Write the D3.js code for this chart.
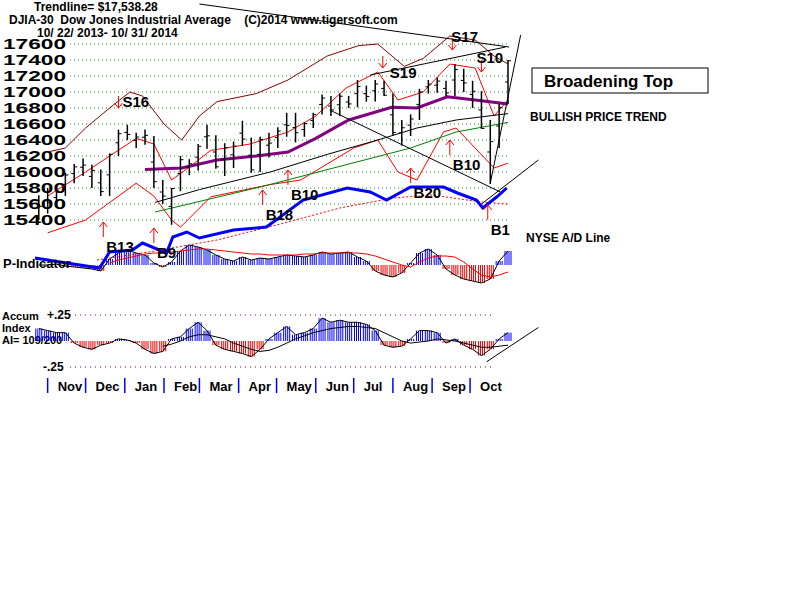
<!DOCTYPE html>
<html><head><meta charset="utf-8">
<script src="https://cdn.jsdelivr.net/npm/d3@7"></script>
<style>body{margin:0;background:#fff}text{font-family:"Liberation Sans",Arial,sans-serif;font-weight:bold;white-space:pre}</style>
</head><body><svg id="c" width="800" height="600"></svg>
<script>
// ---------- DATA ----------
const weekStart = "2013-10-25"; // weekly bars (Fridays)
const closes = [15570,15615,15761,15962,16064,16086,16020,15755,16221,16479,16470,16437,16458,15879,15699,15794,16154,16103,16321,16452,16065,16302,16323,16412,16027,16408,16361,16512,16583,16491,16606,16717,16924,16776,16947,16851,17068,16944,17100,16960,16493,16553,16662,17001,17098,17137,16988,17280,17113,17009,16544,16380,16805,17391];
const highs = [15710,15800,15800,15990,16100,16170,16090,16030,16230,16530,16590,16490,16530,16450,15900,15800,16200,16160,16350,16590,16460,16360,16380,16640,16430,16440,16490,16560,16740,16740,16620,16740,16970,16950,16980,16950,17150,17080,17150,17140,16980,16650,16720,17040,17150,17180,17140,17350,17290,17140,17010,16650,16850,17400];
const lows = [15400,15480,15560,15700,15860,15950,15800,15700,15700,16200,16400,16300,16340,15800,15600,15340,15760,15960,16020,16290,16040,15950,16050,16330,15990,16000,16180,16300,16440,16370,16440,16550,16720,16700,16700,16800,16810,16880,16880,16950,16450,16330,16450,16650,16980,16990,16950,16950,17000,16800,16540,15850,16300,16850];
const pInd = [0,0,1,-1,-2,-3,-4,-6,6,12,15,12,10,2,-2,3,14,20,18,15,10,6,4,8,5,7,6,8,10,9,8,10,13,11,12,13,8,4,-6,-10,-12,-8,2,12,16,10,-4,-10,-14,-16,-18,-14,4,14];
const pMA = [null,null,null,null,null,null,null,null,2,5,7,9,11,12,12,13,14,15,16,16,15,14,13,12,11,11,10,10,10,10,11,11,12,12,12,12,12,11,9,6,3,0,-2,3,7,9,9,8,3,-4,-10,-12,-10,-7];
const accum = [.12,.10,.08,.08,-.02,-.06,-.08,-.04,-.02,.02,.01,-.02,-.08,-.12,-.10,.02,.04,.12,.18,.10,-.04,-.08,-.10,-.12,-.15,-.08,.02,.08,.14,.06,.08,.12,.22,.18,.20,.18,.18,.16,.10,-.04,-.06,-.05,.02,.10,.10,.08,-.02,.02,-.04,-.08,-.14,-.08,.02,.08];
const accMA = [null,null,null,null,null,null,null,null,null,null,null,null,null,null,-.05,-.03,0,.04,.06,.06,.04,.02,-.02,-.05,-.08,-.10,-.09,-.06,-.02,.02,.05,.08,.10,.12,.13,.14,.14,.13,.12,.08,.04,.00,-.02,-.01,.00,.02,.01,.00,-.02,-.04,-.06,-.06,-.05,-.04];
const ma65 = [["2014-01-17",16030],["2014-02-15",16050],["2014-03-15",16150],["2014-04-15",16200],["2014-05-10",16250],["2014-06-01",16420],["2014-06-27",16650],["2014-07-31",16810],["2014-08-20",16800],["2014-09-13",16940],["2014-10-05",16900],["2014-10-31",16850]];
const ma200 = [["2014-01-25",15620],["2014-03-01",15780],["2014-04-26",16000],["2014-06-10",16220],["2014-07-20",16400],["2014-08-20",16550],["2014-09-20",16650],["2014-10-31",16730]];
const maGreen = [["2014-01-25",15500],["2014-04-20",15820],["2014-06-15",16050],["2014-08-15",16300],["2014-09-20",16500],["2014-10-31",16620]];
const bandUp = [["2013-11-01",15700],["2013-12-01",16000],["2013-12-20",16200],["2014-01-10",16420],["2014-01-24",16350],["2014-02-07",15900],["2014-02-20",16050],["2014-03-10",16270],["2014-04-10",16350],["2014-05-10",16500],["2014-06-01",16700],["2014-06-25",17050],["2014-07-20",17250],["2014-08-05",16900],["2014-08-25",17000],["2014-09-15",17350],["2014-10-05",17300],["2014-10-20",16700],["2014-10-31",16900]];
const bandLow = [["2013-11-01",15240],["2013-12-01",15400],["2014-01-10",15860],["2014-01-24",15700],["2014-02-07",15400],["2014-02-14",15310],["2014-03-10",15690],["2014-04-25",15840],["2014-05-20",15900],["2014-06-10",16100],["2014-07-01",16300],["2014-07-20",16400],["2014-08-05",16000],["2014-08-20",15900],["2014-09-10",16500],["2014-09-20",16550],["2014-10-05",16300],["2014-10-20",16050],["2014-10-31",16110]];
const bandOuter = [["2013-11-01",16250],["2013-11-15",16300],["2013-12-01",16550],["2013-12-20",16800],["2014-01-05",17000],["2014-01-15",16950],["2014-02-01",16600],["2014-02-15",16400],["2014-03-01",16700],["2014-03-15",16880],["2014-04-15",16980],["2014-05-10",17150],["2014-06-10",17450],["2014-07-05",17580],["2014-07-20",17600],["2014-08-10",17320],["2014-08-25",17420],["2014-09-15",17700],["2014-10-05",17650],["2014-10-20",17450],["2014-10-31",17350]];
const adLine = [["2013-10-22",12],["2013-11-11",8],["2013-12-12",2],["2013-12-20",18],["2014-01-07",20],["2014-01-15",27],["2014-02-03",17],["2014-02-08",33],["2014-02-19",38],["2014-03-01",32],["2014-03-28",40],["2014-04-23",43],["2014-05-22",70],["2014-06-26",82],["2014-07-14",78],["2014-07-27",70],["2014-08-15",83],["2014-09-10",83],["2014-09-21",77],["2014-10-06",70],["2014-10-11",62],["2014-10-22",73],["2014-10-30",82]];
const adMA = [["2013-12-10",10],["2014-01-20",18],["2014-03-15",30],["2014-05-01",45],["2014-06-20",62],["2014-08-01",72],["2014-09-01",75],["2014-10-10",68],["2014-10-31",66]];
const trendLines = [[["2014-03-01",18100],["2014-11-01",17562]],[["2014-07-14",17212],["2014-10-29",17562]],[["2014-06-12",16775],["2014-10-25",15750]],[["2014-10-17",15862],["2014-11-10",17712]],[["2014-10-09",15587],["2014-11-24",16150]]];
const signals = [["S16","2013-12-27",16800,"down"],["B13","2013-12-15",15375,"up"],["B9","2014-01-24",15300,"up"],["B18","2014-04-20",15775,"up"],["B10","2014-05-10",16025,"up"],["S19","2014-07-24",17300,"down"],["B20","2014-08-15",16050,"up"],["B10","2014-09-15",16400,"up"],["S17","2014-09-17",17525,"down"],["S10","2014-10-10",17250,"down"],["B1","2014-10-15",15590,"up"]];
const priceTicks = [17600,17400,17200,17000,16800,16600,16400,16200,16000,15800,15600,15400];
const months = ["Nov","Dec","Jan","Feb","Mar","Apr","May","Jun","Jul","Aug","Sep","Oct"];
const monthStarts = ["2013-11-01","2013-12-01","2014-01-01","2014-02-01","2014-03-01","2014-04-01","2014-05-01","2014-06-01","2014-07-01","2014-08-01","2014-09-01","2014-10-01"];

const sigLabelOff = {"S16":[4,-1],"S19":[7,10],"S17":[-1,-8],"S10":[-5,-9]};

const P = d3.timeParse("%Y-%m-%d");
const svg = d3.select("#c");
const x = d3.scaleTime().domain([P("2013-10-22"),P("2014-10-31")]).range([35,508]);
const y = d3.scaleLinear().domain([15400,17600]).range([220,44]);
const yAD = d3.scaleLinear().domain([0,100]).range([270,170]);
const yP = d3.scaleLinear().domain([-30,30]).range([295,235]);
const yA = d3.scaleLinear().domain([-.25,.25]).range([367,315]);
const wk = closes.map((c,i)=>d3.timeDay.offset(P(weekStart),7*i));

priceTicks.forEach(t=>{
  svg.append("line").attr("x1",70).attr("x2",510).attr("y1",y(t)).attr("y2",y(t)).attr("stroke","#2a8a2a").attr("stroke-dasharray","1,3");
  svg.append("text").attr("x",3).attr("y",y(t)+5).attr("font-size",14).attr("textLength",63).attr("lengthAdjust","spacingAndGlyphs").text(t);
});
svg.append("text").attr("x",34).attr("y",11).attr("font-size",12).text("Trendline= $17,538.28");
svg.append("text").attr("x",9).attr("y",24).attr("font-size",12).text("DJIA-30  Dow Jones Industrial Average    (C)2014 www.tigersoft.com");
svg.append("text").attr("x",37).attr("y",37).attr("font-size",12).text("10/ 22/ 2013- 10/ 31/ 2014");

const lineP = (data,col,w,dash,yy)=>svg.append("path").attr("d",d3.line().x(d=>x(P(d[0]))).y(d=>yy(d[1]))(data)).attr("fill","none").attr("stroke",col).attr("stroke-width",w).attr("stroke-dasharray",dash||null);
lineP(bandOuter,"#8b0000",1,null,y);
lineP(bandUp,"red",1,null,y);
lineP(bandLow,"red",1,null,y);
lineP(ma200,"black",1,null,y);
lineP(maGreen,"green",1,null,y);
lineP(ma65,"#800080",3,null,y);
trendLines.forEach(t=>lineP(t,"black",1,null,y));

wk.forEach((d,i)=>{
  const X=x(d);
  svg.append("line").attr("x1",X).attr("x2",X).attr("y1",y(highs[i])).attr("y2",y(lows[i])).attr("stroke","black").attr("stroke-width",1.5);
  svg.append("line").attr("x1",X).attr("x2",X+3).attr("y1",y(closes[i])).attr("y2",y(closes[i])).attr("stroke","black");
  svg.append("line").attr("x1",X-3).attr("x2",X).attr("y1",y((highs[i]+lows[i])/2)).attr("y2",y((highs[i]+lows[i])/2)).attr("stroke","black");
});

const hatch=(vals,sc)=>wk.forEach((d,i)=>{
  const v=vals[i]; if(!v) return;
  for(let k=-3;k<=3;k+=2){
    svg.append("line").attr("x1",x(d)+k).attr("x2",x(d)+k).attr("y1",sc(0)).attr("y2",sc(v)).attr("stroke",v>0?"#0000ff":"#e00000");
  }
});
hatch(pInd,yP);
svg.append("path").attr("d",d3.line().x((d,i)=>x(wk[i])).y(d=>yP(d))(pInd)).attr("fill","none").attr("stroke","black");
svg.append("path").attr("d",d3.line().defined(d=>d!=null).x((d,i)=>x(wk[i])).y(d=>yP(d))(pMA)).attr("fill","none").attr("stroke","red");
lineP(adMA,"red",1,"2,2",yAD);
lineP(adLine,"#0000ff",3,null,yAD);
svg.append("text").attr("x",3).attr("y",268).attr("font-size",13).text("P-Indicator");

[.25,-.25].forEach(t=>svg.append("line").attr("x1",70).attr("x2",495).attr("y1",yA(t)).attr("y2",yA(t)).attr("stroke","#800040").attr("stroke-dasharray","1,4"));
svg.append("text").attr("x",47).attr("y",yA(.25)+4).attr("font-size",12).text("+.25");
svg.append("text").attr("x",43).attr("y",yA(-.25)+4).attr("font-size",12).text("-.25");
svg.append("text").attr("x",2).attr("y",320).attr("font-size",11).text("Accum");
svg.append("text").attr("x",2).attr("y",332).attr("font-size",11).text("Index");
svg.append("text").attr("x",2).attr("y",344).attr("font-size",11).text("AI= 109/200");
hatch(accum,yA);
svg.append("path").attr("d",d3.line().x((d,i)=>x(wk[i])).y(d=>yA(d))(accum)).attr("fill","none").attr("stroke","black");
svg.append("path").attr("d",d3.line().defined(d=>d!=null).x((d,i)=>x(wk[i])).y(d=>yA(d))(accMA)).attr("fill","none").attr("stroke","black");
lineP([["2014-10-14",-.2],["2014-11-24",.13]],"black",1,null,yA);

monthStarts.forEach((m,i)=>{
  const X=x(P(m));
  svg.append("line").attr("x1",X).attr("x2",X).attr("y1",378).attr("y2",393).attr("stroke","#0000ff").attr("stroke-width",1.5);
  svg.append("text").attr("x",X+10).attr("y",391).attr("font-size",13).text(months[i]);
});

signals.forEach(s=>{
  const X=x(P(s[1])), Y=y(s[2]), col="red";
  const o=sigLabelOff[s[0]]||[3,30];
  if(s[3]==="up"){
    svg.append("line").attr("x1",X).attr("x2",X).attr("y1",Y).attr("y2",Y+15).attr("stroke",col);
    svg.append("path").attr("d",`M${X-4},${Y+5}L${X},${Y}L${X+4},${Y+5}`).attr("fill","none").attr("stroke",col);
  } else {
    svg.append("line").attr("x1",X).attr("x2",X).attr("y1",Y-12).attr("y2",Y).attr("stroke",col);
    svg.append("path").attr("d",`M${X-4},${Y-5}L${X},${Y}L${X+4},${Y-5}`).attr("fill","none").attr("stroke",col);
  }
  svg.append("text").attr("x",X+o[0]).attr("y",Y+o[1]).attr("font-size",15).attr("font-weight","normal").text(s[0]);
});

svg.append("rect").attr("x",532).attr("y",68).attr("width",176).attr("height",25).attr("fill","none").attr("stroke","black");
svg.append("text").attr("x",544).attr("y",87).attr("font-size",17).text("Broadening Top");
svg.append("text").attr("x",530).attr("y",121).attr("font-size",12).text("BULLISH PRICE TREND");
svg.append("text").attr("x",526).attr("y",242).attr("font-size",12).text("NYSE A/D Line");
</script></body></html>
